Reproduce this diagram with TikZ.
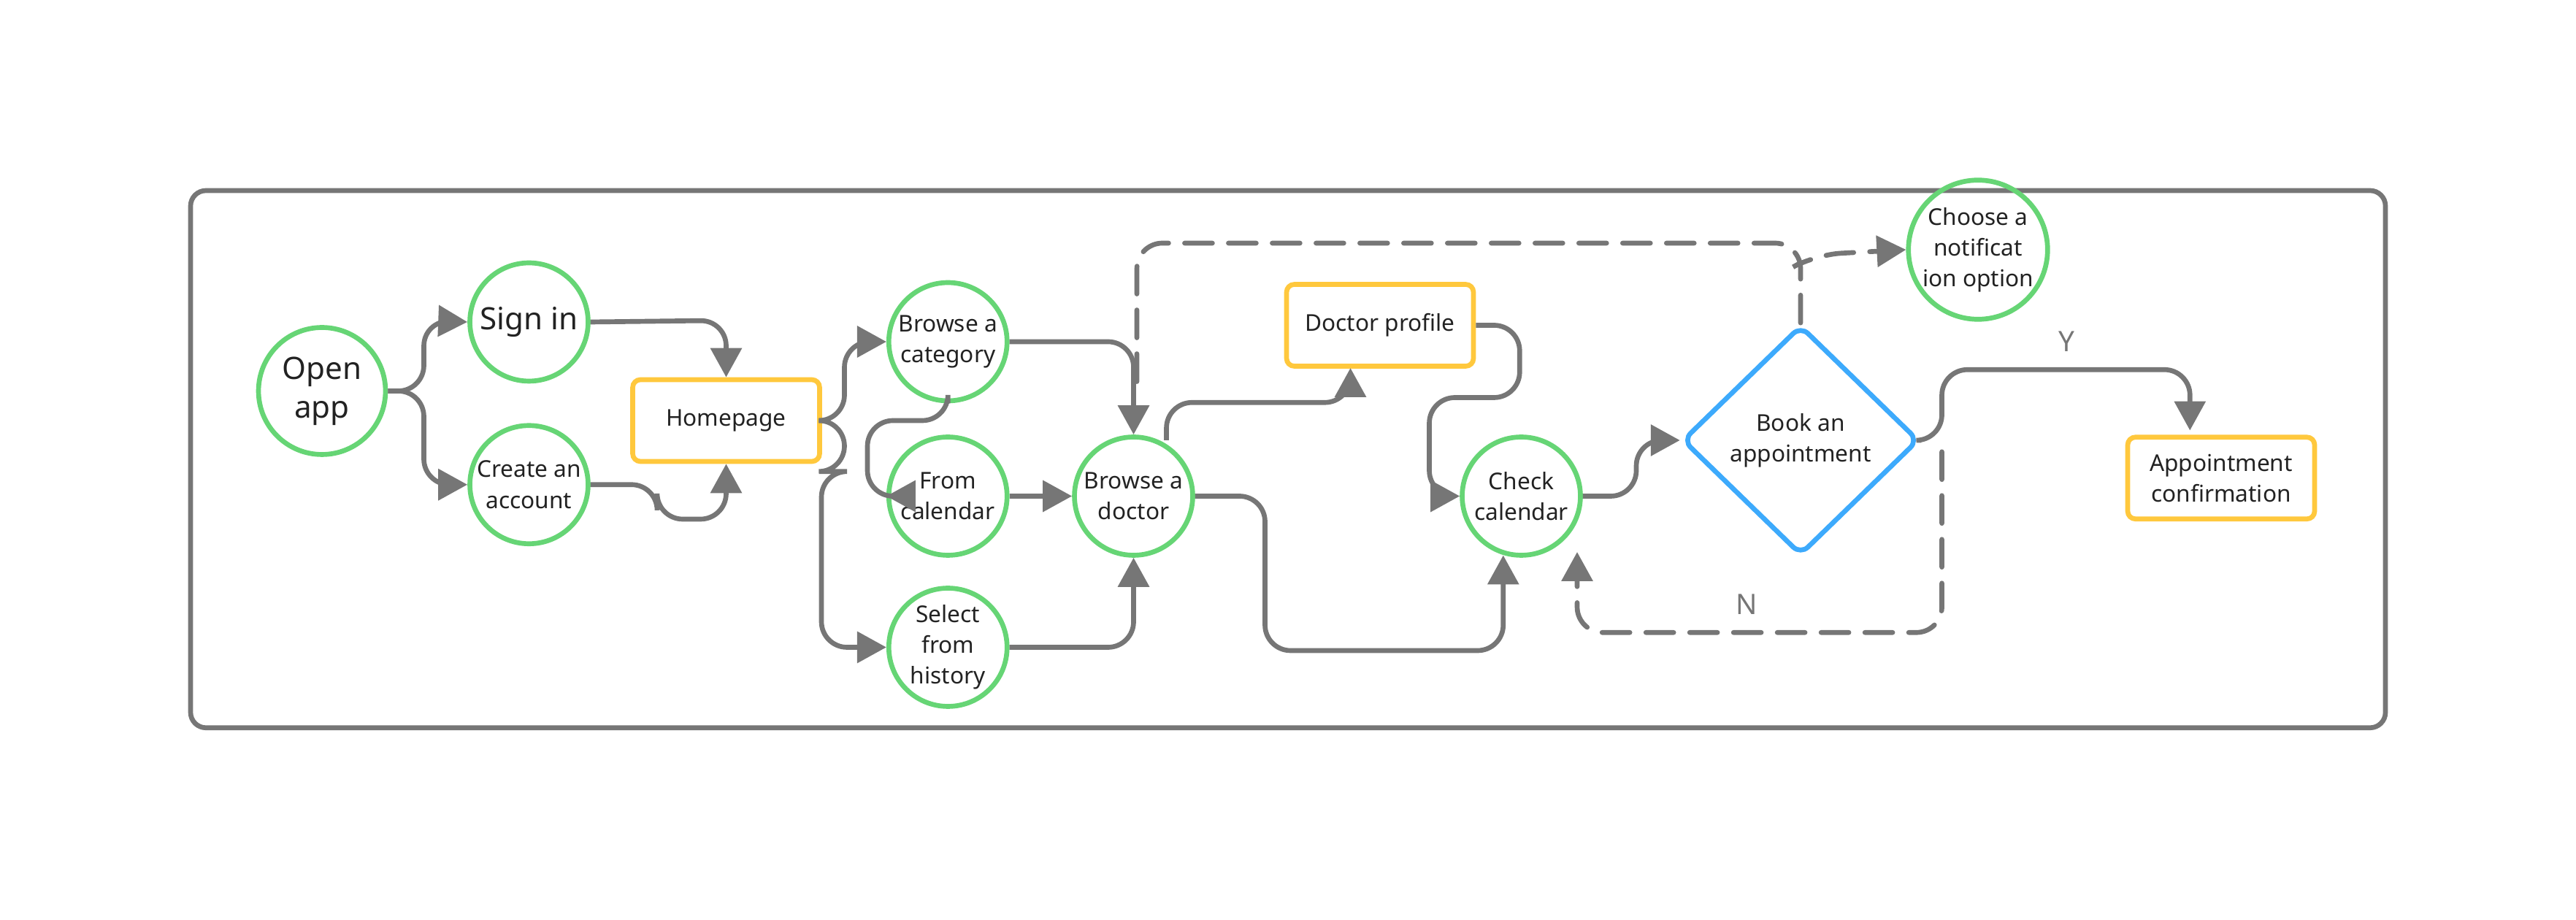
\documentclass[tikz,border=0pt]{standalone}
\usepackage{fontspec}
\setmainfont{Noto Sans}
\usetikzlibrary{positioning}
\usetikzlibrary{arrows.meta}
\usetikzlibrary{shapes.geometric}

\definecolor{stepgreen}{HTML}{66D575}
\definecolor{pageyellow}{HTML}{FFC83D}
\definecolor{askblue}{HTML}{3DAAFC}
\definecolor{linegray}{HTML}{767676}
\definecolor{textdark}{HTML}{222222}

\tikzset{
    stepnode/.style={circle,draw=stepgreen,line width=1.9pt,minimum size=1.62cm,inner sep=0pt,align=center,text=textdark,font=\fontsize{9}{12}\selectfont},
    pagenode/.style={rectangle,draw=pageyellow,line width=1.9pt,rounded corners=3pt,minimum width=2.56cm,minimum height=1.12cm,align=center,text=textdark,font=\fontsize{9}{12}\selectfont},
    flow/.style={draw=linegray,line width=1.9pt,rounded corners=0.35cm,-{Triangle[length=0.4cm,width=0.42cm]}},
    maybe/.style={flow,dash pattern=on 0.38cm off 0.22cm,line cap=round},
}

\begin{document}
\begin{tikzpicture}[x=0.0225cm,y=-0.0225cm]
        \useasboundingbox (0,0) rectangle (1568,560);
        \draw[draw=linegray,line width=1.9pt,rounded corners=6pt] (116,116) rectangle (1452,443);

        % steps and pages
        \node[stepnode,minimum size=1.74cm,font=\fontsize{12}{15}\selectfont] (openApp) at (196,238) {Open\\app};
        \node[stepnode,font=\fontsize{12}{15}\selectfont] (signIn) at (322,196) {Sign in};
        \node[stepnode] (createAccount) at (322,295) {Create an\\account};
        \node[pagenode] (homepage) at (442,256) {Homepage};
        \node[stepnode] (browseCat) at (577,208) {Browse a\\category};
        \node[stepnode] (fromCal) at (577,302) {From\\calendar};
        \node[stepnode] (fromHistory) at (577,394) {Select\\from\\history};
        \node[stepnode] (browseDoc) at (690,302) {Browse a\\doctor};
        \node[pagenode] (docProfile) at (840,198) {Doctor profile};
        \node[stepnode] (checkCal) at (926,302) {Check\\calendar};
        \node[diamond,draw=askblue,line width=1.9pt,rounded corners=4pt,minimum width=3.24cm,minimum height=3.15cm,inner sep=0pt,align=center,text=textdark,font=\fontsize{9}{12}\selectfont] (bookAppt) at (1096,268) {Book an\\appointment};
        \node[stepnode] (notifyOpt) at (1204,152) {Choose a\\notificat\\ion option};
        \node[pagenode] (apptConfirm) at (1352,291) {Appointment\\confirmation};

        % connectors
        \draw[flow] (openApp.east) -- (258,238) -- (258,195) -- (signIn.west);
        \draw[flow] (openApp.east) -- (258,238) -- (258,295) -- (createAccount.west);
        \draw[flow] (signIn.east) -- (442,195) -- (homepage.north);
        \draw[flow] (createAccount.east) -- (400,295) -- (400,316) -- (442,316) -- (homepage.south);
        \draw[flow] (homepage.east) -- (514,256) -- (514,208) -- (browseCat.west);
        \draw[flow] (homepage.east) -- (514,256) -- (514,287) -- (500,287) -- (500,394) -- (fromHistory.west);
        \draw[flow] (browseCat.south) -- (577,256) -- (528,256) -- (528,302) -- (fromCal.west);
        \draw[flow] (browseCat.east) -- (690,208) -- (browseDoc.north);
        \draw[flow] (fromCal) -- (browseDoc);
        \draw[flow] (fromHistory.east) -- (690,394) -- (browseDoc.south);
        \draw[flow] (710,268) -- (710,245) -- (822,245) -- (822,224);
        \draw[flow] (docProfile.east) -- (925,198) -- (925,242) -- (870,242) -- (870,302) -- (checkCal.west);
        \draw[flow] (browseDoc.east) -- (770,302) -- (770,396) -- (915,396) -- (915,338);
        \draw[flow] (checkCal.east) -- (996,302) -- (996,268) -- (bookAppt.west);
        \draw[flow] (bookAppt.east) -- (1182,268) -- (1182,225) -- (1333,225) -- (1333,262);
        \node[text=linegray,font=\fontsize{11}{13}\selectfont] (yesLabel) at (1258,208) {Y};

        % dashed
        \draw[maybe,-] (bookAppt.north) -- (1096,148) -- (692,148) -- (692,240);
        \draw[maybe] (1096,160) -- (1105,155) -- (notifyOpt.west);
        \draw[maybe] (1182,275) -- (1182,385) -- (960,385) -- (960,336);
        \node[text=linegray,font=\fontsize{11}{13}\selectfont] (noLabel) at (1063,368) {N};
\end{tikzpicture}
\end{document}
